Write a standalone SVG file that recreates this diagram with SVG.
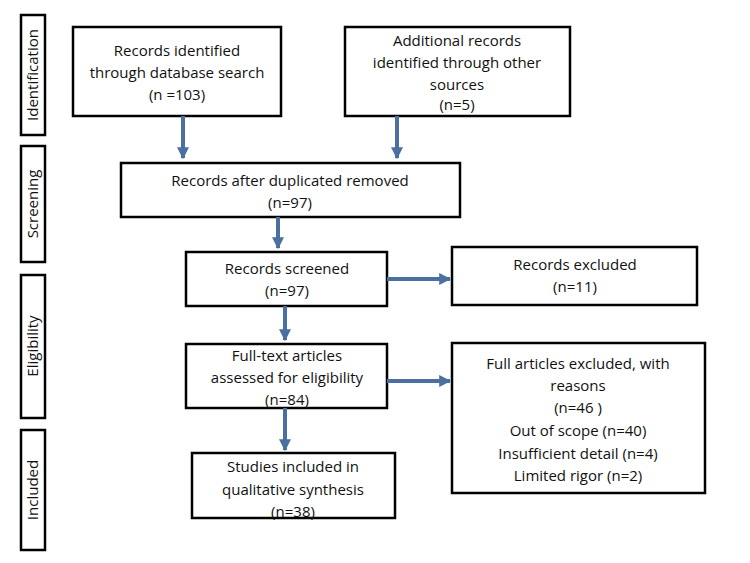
<svg xmlns="http://www.w3.org/2000/svg" width="750" height="563" viewBox="0 0 750 563">
<style>
rect{fill:#fff;stroke:#000;stroke-width:2.5}
text{font-family:"Open Sans","Liberation Sans",sans-serif;font-size:15px;text-anchor:middle;fill:#111}
.s{font-size:14px}
.c{stroke:#4a6fa0;stroke-width:4;fill:none}
</style>
<defs><marker id="a" viewBox="0 0 10 10" refX="9" refY="5" markerWidth="3" markerHeight="3" orient="auto"><path d="M0,0L10,5L0,10z" fill="#4a6fa0"/></marker></defs>
<rect width="750" height="563" style="fill:#fff;stroke:none"/>
<g id="phase-identification"><rect x="21" y="15" width="24" height="120"/><text transform="translate(38,75) rotate(-90)">Identification</text></g>
<g id="phase-screening"><rect x="21" y="146" width="24" height="116"/><text transform="translate(38,204) rotate(-90)">Screening</text></g>
<g id="phase-eligibility"><rect x="21" y="275" width="24" height="143"/><text transform="translate(38,346) rotate(-90)">Eligibility</text></g>
<g id="phase-included"><rect x="21" y="430" width="24" height="120"/><text transform="translate(38,490) rotate(-90)">Included</text></g>
<g id="n1"><rect x="73" y="27" width="208" height="89"/><text x="177" y="56">Records identified</text><text x="177" y="78">through database search</text><text x="177" y="100">(n =103)</text></g>
<g id="n2"><rect x="345" y="27" width="225" height="89"/><text x="457" y="46">Additional records</text><text x="457" y="68">identified through other</text><text x="457" y="90">sources</text><text x="457" y="110">(n=5)</text></g>
<g id="n3"><rect x="121" y="163" width="339" height="54"/><text x="290" y="186">Records after duplicated removed</text><text x="290" y="208">(n=97)</text></g>
<g id="n4"><rect x="186" y="252" width="201" height="54"/><text x="287" y="274">Records screened</text><text x="287" y="296">(n=97)</text></g>
<g id="n5"><rect x="452" y="247" width="245" height="58"/><text x="575" y="270">Records excluded</text><text x="575" y="292">(n=11)</text></g>
<g id="n6"><rect x="186" y="344" width="201" height="64"/><text x="287" y="361">Full-text articles</text><text x="287" y="383">assessed for eligibility</text><text x="287" y="405">(n=84)</text></g>
<g id="n7"><rect x="452" y="343" width="253" height="150"/><text x="578" y="369">Full articles excluded, with</text><text x="578" y="391">reasons</text><text x="578" y="413">(n=46 )</text><text x="578" y="436">Out of scope (n=40)</text><text x="578" y="459">Insufficient detail (n=4)</text><text x="578" y="481">Limited rigor (n=2)</text></g>
<g id="n8"><rect x="192" y="453" width="203" height="65"/><text x="293" y="472">Studies included in</text><text x="293" y="495">qualitative synthesis</text><text x="293" y="517">(n=38)</text></g>
<g id="connectors">
<path class="c" marker-end="url(#a)" d="M183,116V158"/>
<path class="c" marker-end="url(#a)" d="M397,116V158"/>
<path class="c" marker-end="url(#a)" d="M278,217V248"/>
<path class="c" marker-end="url(#a)" d="M285,306V340"/>
<path class="c" marker-end="url(#a)" d="M285,408V450"/>
<path class="c" marker-end="url(#a)" d="M387,279H450"/>
<path class="c" marker-end="url(#a)" d="M387,381H450"/>
</g>
</svg>
